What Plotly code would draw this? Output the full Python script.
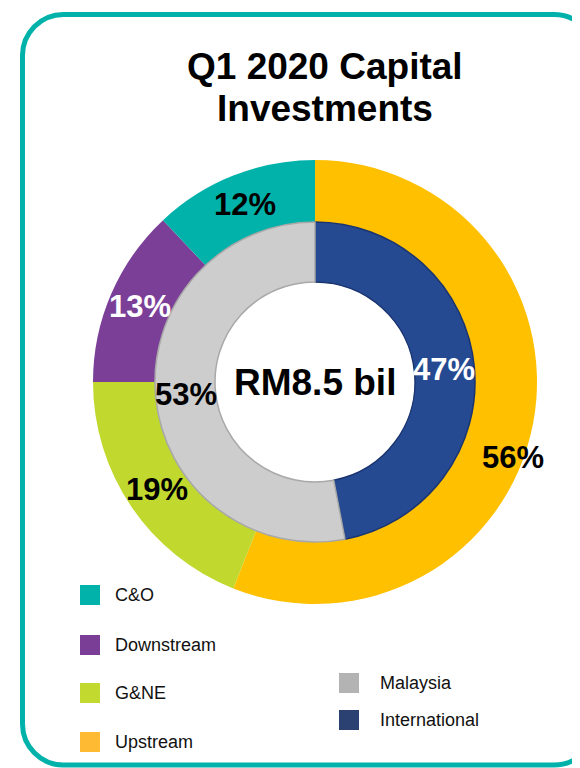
import math
import plotly.graph_objects as go

W, H = 580, 768
OFF = 8  # page body margin of the generated html

# ---- data ----
segments = ["Upstream", "G&NE", "Downstream", "C&O"]
segment_values = [56, 19, 13, 12]
segment_colors = ["#FFC000", "#C1D82F", "#7B3F98", "#00B2A9"]
segment_legend_colors = ["#FFBA33", "#C2D92F", "#7A3E96", "#00B2A9"]
segment_text_colors = ["black", "black", "white", "black"]

regions = ["International", "Malaysia"]
region_values = [47, 53]
region_colors = ["#254A91", "#CDCDCD"]
region_legend_colors = ["#2B4172", "#B3B3B3"]
region_text_colors = ["white", "black"]
region_line_colors = ["#1A3470", "#A8A8A8"]

title_lines = ["Q1 2020 Capital", "Investments"]
center_label = "RM8.5 bil"

FONT = "Liberation Sans, Arial, sans-serif"


def px(x):
    return (x - OFF) / W


def py(y):
    return 1 - (y - OFF) / H


# pie geometry (pixels in the reference)
cx, cy = 315, 382
r_out, r_mid, r_in = 222, 160, 100

fig = go.Figure()
fig.add_trace(go.Pie(
    labels=segments, values=segment_values, sort=False,
    direction="clockwise", rotation=0,
    hole=r_mid / r_out,
    domain=dict(x=[px(cx - r_out), px(cx + r_out)], y=[py(cy + r_out), py(cy - r_out)]),
    marker=dict(colors=segment_colors, line=dict(width=0)),
    textinfo="none", showlegend=False, hoverinfo="label+percent",
))
fig.add_trace(go.Pie(
    labels=regions, values=region_values, sort=False,
    direction="clockwise", rotation=0,
    hole=r_in / r_mid,
    domain=dict(x=[px(cx - r_mid), px(cx + r_mid)], y=[py(cy + r_mid), py(cy - r_mid)]),
    marker=dict(colors=region_colors, line=dict(width=1.5, color=region_line_colors)),
    textinfo="none", showlegend=False, hoverinfo="label+percent",
))

shapes = []
annotations = []


def slice_labels(values, text_colors, radius, nudges=None):
    """Percent labels at the mid-angle of each slice (clockwise from 12 o'clock)."""
    total = sum(values)
    cum = 0
    for i, (v, c) in enumerate(zip(values, text_colors)):
        ang = 2 * math.pi * (cum + v / 2) / total
        cum += v
        dang, drad = (nudges or {}).get(i, (0, 0))
        a = ang + math.radians(dang)
        rr = radius + drad
        x = cx + rr * math.sin(a)
        y = cy - rr * math.cos(a)
        annotations.append(dict(text=f"<b>{round(100 * v / total)}%</b>", x=px(x), y=py(y),
                                xref="paper", yref="paper", showarrow=False,
                                xanchor="center", yanchor="middle",
                                font=dict(family=FONT, size=31, color=c)))


slice_labels(segment_values, segment_text_colors, (r_mid + r_out) / 2, nudges={0: (10, 21)})
slice_labels(region_values, region_text_colors, (r_in + r_mid) / 2)

# rounded border
x0, x1, y0, y1, r = 22.5, 595, 14.5, 765, 41
k = 0.5523 * r
path = (
    f"M {px(x0 + r)},{py(y0)} L {px(x1 - r)},{py(y0)} "
    f"C {px(x1 - r + k)},{py(y0)} {px(x1)},{py(y0 + r - k)} {px(x1)},{py(y0 + r)} "
    f"L {px(x1)},{py(y1 - r)} "
    f"C {px(x1)},{py(y1 - r + k)} {px(x1 - r + k)},{py(y1)} {px(x1 - r)},{py(y1)} "
    f"L {px(x0 + r)},{py(y1)} "
    f"C {px(x0 + r - k)},{py(y1)} {px(x0)},{py(y1 - r + k)} {px(x0)},{py(y1 - r)} "
    f"L {px(x0)},{py(y0 + r)} "
    f"C {px(x0)},{py(y0 + r - k)} {px(x0 + r - k)},{py(y0)} {px(x0 + r)},{py(y0)} Z"
)
shapes.append(dict(type="path", xref="paper", yref="paper", path=path,
                   line=dict(color="#00B2A9", width=5), fillcolor="rgba(0,0,0,0)", layer="below"))

# title
for i, t in enumerate(title_lines):
    annotations.append(dict(text=f"<b>{t}</b>", x=px(325), y=py(66 + 43 * i), xref="paper", yref="paper",
                            showarrow=False, xanchor="center", yanchor="middle",
                            font=dict(family=FONT, size=37, color="black")))

# center label
annotations.append(dict(text=f"<b>{center_label}</b>", x=px(cx), y=py(cy), xref="paper", yref="paper",
                        showarrow=False, xanchor="center", yanchor="middle",
                        font=dict(family=FONT, size=37, color="black")))

# legends
sw = 20


def legend_item(label, color, sx, tx, yc):
    shapes.append(dict(type="rect", xref="paper", yref="paper",
                       x0=px(sx), x1=px(sx + sw), y0=py(yc + sw / 2), y1=py(yc - sw / 2),
                       fillcolor=color, line=dict(width=0)))
    annotations.append(dict(text=label, x=px(tx), y=py(yc), xref="paper", yref="paper",
                            showarrow=False, xanchor="left", yanchor="middle",
                            font=dict(family=FONT, size=18, color="#111111")))


left_rows = [595, 645, 693, 742]
for lab, col, yc in zip(segments[::-1], segment_legend_colors[::-1], left_rows):
    legend_item(lab, col, 80, 113, yc)

right_rows = [683, 720]
for lab, col, yc in zip(regions[::-1], region_legend_colors[::-1], right_rows):
    legend_item(lab, col, 339, 378, yc)

fig.update_layout(
    width=W, height=H,
    margin=dict(l=0, r=0, t=0, b=0),
    paper_bgcolor="white", plot_bgcolor="white",
    shapes=shapes, annotations=annotations,
    showlegend=False,
)

fig.write_html("out.html")
